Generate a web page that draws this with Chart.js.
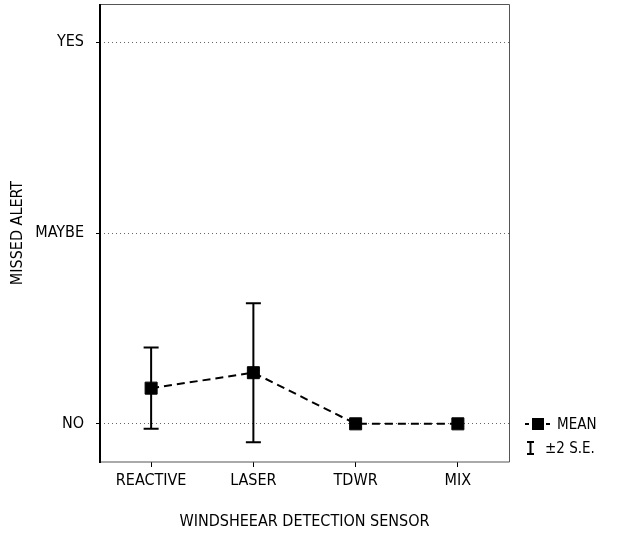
<!DOCTYPE html>
<html>
<head>
<meta charset="utf-8">
<script src="https://cdn.jsdelivr.net/npm/chart.js@4/dist/chart.umd.min.js"></script>
<style>
  body { margin: 0; background: #fff; }
  canvas { display: block; }
</style>
</head>
<body>
<canvas id="sensorChart" width="621" height="539"></canvas>
<script>
// data
const categories = ['REACTIVE', 'LASER', 'TDWR', 'MIX'];
const meanValues = [0.187, 0.268, 0, 0];
const twoSE = [0.213, 0.364, 0, 0];
const yTickValues = [0, 1, 2];
const yTickLabels = ['NO', 'MAYBE', 'YES'];

const FONT = "'Liberation Sans Narrow', 'DejaVu Sans Condensed', sans-serif";

// vertical error bars with caps, drawn under the markers
const errorBars = {
    id: 'errorBars',
    beforeDatasetsDraw(chart) {
        const ctx = chart.ctx;
        const x = chart.scales.x, y = chart.scales.y;
        ctx.save();
        ctx.strokeStyle = '#000';
        ctx.lineWidth = 2;
        for (let i = 0; i < categories.length; i++) {
            if (!twoSE[i]) continue;
            const px = x.getPixelForValue(i);
            const top = y.getPixelForValue(meanValues[i] + twoSE[i]);
            const bot = y.getPixelForValue(meanValues[i] - twoSE[i]);
            ctx.beginPath();
            ctx.moveTo(px, top); ctx.lineTo(px, bot);
            ctx.moveTo(px - 7.5, top); ctx.lineTo(px + 7.5, top);
            ctx.moveTo(px - 7.5, bot); ctx.lineTo(px + 7.5, bot);
            ctx.stroke();
        }
        ctx.restore();
    }
};

// frame round the plot + the small legend on the right
const frameAndLegend = {
    id: 'frameAndLegend',
    afterDraw(chart) {
        const ctx = chart.ctx;
        const a = chart.chartArea;
        ctx.save();
        ctx.strokeStyle = '#555';
        ctx.lineWidth = 1;
        ctx.beginPath();
        ctx.moveTo(a.left, a.top + 0.5); ctx.lineTo(a.right + 0.5, a.top + 0.5);
        ctx.lineTo(a.right + 0.5, a.bottom); ctx.lineTo(a.left, a.bottom);
        ctx.stroke();
        // left axis, heavier
        ctx.strokeStyle = '#000';
        ctx.lineWidth = 2;
        ctx.beginPath();
        ctx.moveTo(a.left, a.top); ctx.lineTo(a.left, a.bottom + 1);
        ctx.stroke();

        // legend: mean
        const ly = 424;
        ctx.lineWidth = 2;
        ctx.setLineDash([4, 3]);
        ctx.beginPath();
        ctx.moveTo(525, ly); ctx.lineTo(551, ly);
        ctx.stroke();
        ctx.setLineDash([]);
        ctx.fillStyle = '#000';
        ctx.fillRect(532, ly - 6, 12, 12);
        ctx.font = '15px ' + FONT;
        ctx.textBaseline = 'middle';
        ctx.fillText('MEAN', 557, ly + 1);

        // legend: error bar
        const ey = 448;
        ctx.beginPath();
        ctx.moveTo(530.5, ey - 6); ctx.lineTo(530.5, ey + 6);
        ctx.moveTo(527, ey - 6); ctx.lineTo(534, ey - 6);
        ctx.moveTo(527, ey + 6); ctx.lineTo(534, ey + 6);
        ctx.stroke();
        ctx.fillText('\u00B12 S.E.', 545, ey + 1);
        ctx.restore();
    }
};

const ctx = document.getElementById('sensorChart').getContext('2d');
new Chart(ctx, {
    type: 'line',
    data: {
        labels: categories,
        datasets: [{
            label: 'MEAN',
            data: meanValues,
            borderColor: '#000',
            borderWidth: 2,
            borderDash: [8, 5],
            pointStyle: 'rect',
            pointRadius: 8.5,
            pointBackgroundColor: '#000',
            pointBorderColor: '#000',
            pointBorderWidth: 1,
            fill: false,
            tension: 0
        }]
    },
    options: {
        responsive: false,
        animation: false,
        layout: { autoPadding: false, padding: { left: 0, top: 4, right: 112, bottom: 0 } },
        plugins: {
            legend: { display: false },
            tooltip: { enabled: false }
        },
        scales: {
            x: {
                type: 'category',
                offset: true,
                afterFit(scale) {
                    scale.height = 77;
                    scale.paddingLeft = 0;
                    scale.paddingRight = 0;
                },
                grid: { drawOnChartArea: false, drawTicks: true, tickLength: 5, tickColor: '#000', offset: false },
                border: { display: false },
                ticks: {
                    color: '#000',
                    padding: 4,
                    maxRotation: 0,
                    font: { family: FONT, size: 16 }
                },
                title: {
                    display: true,
                    text: 'WINDSHEEAR DETECTION SENSOR',
                    color: '#000',
                    font: { family: FONT, size: 16 },
                    padding: { top: 0, bottom: 8 }
                }
            },
            y: {
                min: -0.2,
                max: 2.2,
                afterFit(scale) {
                    scale.width = 100;
                    scale.paddingTop = 0;
                    scale.paddingBottom = 0;
                },
                afterBuildTicks(scale) {
                    scale.ticks = yTickValues.map(v => ({ value: v }));
                },
                grid: {
                    color: '#666',
                    lineWidth: 1,
                    drawTicks: true,
                    tickLength: 4,
                    tickColor: '#000',
                    tickBorderDash: []
                },
                // border.dash is what dots the grid lines in v4
                border: { display: false, dash: [1, 3] },
                ticks: {
                    color: '#000',
                    padding: 12,
                    font: { family: FONT, size: 16 },
                    callback: (v) => {
                        const i = yTickValues.indexOf(v);
                        return i >= 0 ? yTickLabels[i] : '';
                    }
                },
                title: {
                    display: true,
                    text: 'MISSED ALERT',
                    color: '#000',
                    font: { family: FONT, size: 16 },
                    padding: { top: 8, bottom: 0 }
                }
            }
        }
    },
    plugins: [errorBars, frameAndLegend]
});
</script>
</body>
</html>
